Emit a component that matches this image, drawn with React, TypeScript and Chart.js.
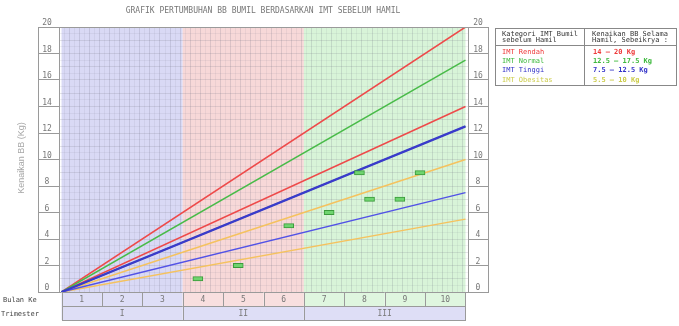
import React, { useEffect, useRef } from "react";
import { Chart, registerables } from "chart.js";

Chart.register(...registerables);

// ---- data ----
const chartTitle = "GRAFIK PERTUMBUHAN BB BUMIL BERDASARKAN IMT SEBELUM HAMIL";
const yAxisTitle = "Kenaikan BB (Kg)";
const categories = ["IMT Rendah", "IMT Normal", "IMT Tinggi", "IMT Obesitas"];
const gainRanges = ["14 \u2013 20 Kg", "12.5 \u2013 17.5 Kg", "7.5 \u2013 12.5 Kg", "5.5 \u2013 10 Kg"];
const upperGain = [20, 17.5, 12.5, 10];
const lowerGain = [14, 12.5, 7.5, 5.5];
const weekRange = [0, 40];
const visitWeeks = [13.5, 17.5, 22.5, 26.5, 29.5, 30.5, 33.5, 35.5];
const visitWeights = [1, 2, 5, 6, 9, 7, 7, 9];
const monthLabels = ["1", "2", "3", "4", "5", "6", "7", "8", "9", "10"];
const trimesterLabels = ["I", "II", "III"];
const trimesterBounds = [0, 12, 24, 40];
const legendHeader = [
  ["Kategori IMT Bumil", "sebelum Hamil"],
  ["Kenaikan BB Selama", "Hamil, Sebeikrya :"],
];

// ---- styles ----
const catColors = ["#ee4a4a", "#48bb48", "#3a3acc", "#f5c25e"];
const legendColors = ["#ee3a3a", "#3cb83c", "#3434c8", "#cccc4a"];
const bandColors = ["#d9d9f5", "#f7d8d8", "#d8f4d8"];
const cellColors = ["#dedef6", "#f8dfdf", "#dff6df"];
const MONO = '"DejaVu Sans Mono", monospace';

const decorPlugin = {
  id: "decor",
  beforeDraw(chart: any) {
    const { ctx, chartArea } = chart;
    const x = chart.scales.x;
    ctx.save();
    for (let i = 0; i < 3; i++) {
      const x0 = x.getPixelForValue(trimesterBounds[i]);
      const x1 = x.getPixelForValue(trimesterBounds[i + 1]);
      ctx.fillStyle = bandColors[i];
      ctx.fillRect(x0, chartArea.top, x1 - x0, chartArea.bottom - chartArea.top);
    }
    ctx.restore();
  },
  afterDraw(chart: any) {
    const { ctx, chartArea } = chart;
    const x = chart.scales.x;
    const y = chart.scales.y;
    const y2 = chart.scales.y2;
    ctx.save();
    ctx.strokeStyle = "#9a9a9a";
    ctx.lineWidth = 1;
    // axis boxes
    ctx.strokeRect(Math.round(y.left) + 0.5, chartArea.top + 0.5, y.right - y.left, chartArea.bottom - chartArea.top);
    ctx.strokeRect(Math.round(y2.left) + 0.5, chartArea.top + 0.5, y2.right - y2.left, chartArea.bottom - chartArea.top);
    ctx.strokeRect(chartArea.left + 0.5, chartArea.top + 0.5, chartArea.right - chartArea.left, chartArea.bottom - chartArea.top);

    // y title
    ctx.save();
    ctx.translate(22, 158);
    ctx.rotate(-Math.PI / 2);
    ctx.fillStyle = "#a8a8a8";
    ctx.font = '9px "Liberation Sans", sans-serif';
    ctx.textAlign = "center";
    ctx.textBaseline = "middle";
    ctx.fillText(yAxisTitle, 0, 0);
    ctx.restore();

    // bottom table
    const r0 = chartArea.bottom;
    const r1 = r0 + 14;
    const r2 = r1 + 14;
    ctx.font = "8px " + MONO;
    ctx.textAlign = "center";
    ctx.textBaseline = "middle";
    for (let i = 0; i < monthLabels.length; i++) {
      const a = x.getPixelForValue(i * 4);
      const b = x.getPixelForValue((i + 1) * 4);
      const t = i < 3 ? 0 : i < 6 ? 1 : 2;
      ctx.fillStyle = cellColors[t];
      ctx.fillRect(a, r0, b - a, r1 - r0);
      ctx.strokeRect(Math.round(a) + 0.5, r0 + 0.5, Math.round(b) - Math.round(a), r1 - r0);
      ctx.fillStyle = "#777";
      ctx.fillText(monthLabels[i], (a + b) / 2, (r0 + r1) / 2 + 1);
    }
    for (let i = 0; i < trimesterLabels.length; i++) {
      const a = x.getPixelForValue(trimesterBounds[i]);
      const b = x.getPixelForValue(trimesterBounds[i + 1]);
      ctx.fillStyle = cellColors[0];
      ctx.fillRect(a, r1, b - a, r2 - r1);
      ctx.strokeRect(Math.round(a) + 0.5, r1 + 0.5, Math.round(b) - Math.round(a), r2 - r1);
      ctx.fillStyle = "#777";
      ctx.fillText(trimesterLabels[i], (a + b) / 2, (r1 + r2) / 2 + 1);
    }
    ctx.font = "7px " + MONO;
    ctx.fillStyle = "#444";
    ctx.textAlign = "left";
    ctx.fillText("Bulan Ke", 3, (r0 + r1) / 2 + 1);
    ctx.fillText("Trimester", 1, (r1 + r2) / 2 + 1);

    // legend table
    const L = 495, R = 676, T = 28, B = 85, D = 584, H = 45;
    ctx.fillStyle = "#fff";
    ctx.fillRect(L, T, R - L, B - T);
    ctx.strokeStyle = "#888";
    ctx.strokeRect(L + 0.5, T + 0.5, R - L, B - T);
    ctx.beginPath();
    ctx.moveTo(D + 0.5, T);
    ctx.lineTo(D + 0.5, B);
    ctx.moveTo(L, H + 0.5);
    ctx.lineTo(R, H + 0.5);
    ctx.stroke();
    ctx.textAlign = "left";
    ctx.font = "7px " + MONO;
    ctx.fillStyle = "#333";
    ctx.fillText(legendHeader[0][0], 502, 34);
    ctx.fillText(legendHeader[0][1], 502, 40.5);
    ctx.fillText(legendHeader[1][0], 592, 34);
    ctx.fillText(legendHeader[1][1], 592, 40.5);
    const rowY = [52, 61, 70.5, 80];
    for (let i = 0; i < categories.length; i++) {
      ctx.fillStyle = legendColors[i];
      ctx.font = "7px " + MONO;
      ctx.fillText(categories[i], 502, rowY[i]);
      ctx.font = "bold 7px " + MONO;
      ctx.fillText(gainRanges[i], 593, rowY[i]);
    }
    ctx.restore();
  },
};

const lineOrder = [3, 2, 1, 3];
const lineWidths = [1.5, 1.5, 2.2, 1.5];

export default function App() {
  const ref = useRef<HTMLCanvasElement | null>(null);
  useEffect(() => {
    if (!ref.current) return;
    const datasets: any[] = [];
    categories.forEach((c, i) => {
      [upperGain[i], lowerGain[i]].forEach((g, k) => {
        datasets.push({
          type: "line",
          label: c + (k === 0 ? " max" : " min"),
          data: [
            { x: weekRange[0], y: 0 },
            { x: weekRange[1], y: g },
          ],
          borderColor: i === 2 && k === 1 ? "#5252e6" : catColors[i],
          borderWidth: i === 2 && k === 1 ? 1.5 : lineWidths[i],
          pointRadius: 0,
          order: lineOrder[i],
        });
      });
    });
    datasets.push({
      type: "bar",
      label: "BB",
      data: visitWeeks.map((w, i) => ({ x: w, y: [visitWeights[i] - 0.16, visitWeights[i] + 0.16] })),
      backgroundColor: "#6fd46f",
      borderColor: "#3a9a3a",
      borderWidth: 1,
      borderSkipped: false,
      barThickness: 10,
      order: 0,
    });

    const chart = new Chart(ref.current, {
      type: "line",
      data: { datasets },
      plugins: [decorPlugin],
      options: {
        animation: false,
        responsive: false,
        events: [],
        layout: { padding: { left: 38, right: 191, top: 0, bottom: 34 } },
        plugins: {
          legend: { display: false },
          tooltip: { enabled: false },
          title: {
            display: true,
            text: chartTitle,
            color: "#777",
            font: { family: MONO, size: 8, weight: "normal", lineHeight: 1.2 },
            padding: { top: 6, bottom: 11.4 },
          },
        },
        scales: {
          x: {
            type: "linear",
            min: weekRange[0],
            max: weekRange[1],
            afterFit: (s: any) => { s.height = 0; },
            ticks: { display: false, stepSize: 0.5, autoSkip: false, maxTicksLimit: 200 },
            grid: {
              drawTicks: false,
              color: (c: any) =>
                c.tick && c.tick.value % 1 === 0 ? "rgba(110,110,130,0.2)" : "rgba(110,110,130,0.09)",
            },
            border: { display: false },
          },
          y: {
            type: "linear",
            position: "left",
            min: 0,
            max: 20,
            afterFit: (s: any) => { s.width = 21; },
            ticks: {
              stepSize: 0.5,
              autoSkip: false,
              maxTicksLimit: 200,
              callback: (v: any) => (v % 2 === 0 ? String(v) : ""),
              color: "#777",
              font: { family: MONO, size: 8 },
              crossAlign: "center",
              padding: -13.8,
              labelOffset: -4,
            },
            grid: {
              tickLength: 21,
              color: (c: any) =>
                c.tick && c.tick.value % 1 === 0 ? "rgba(110,110,130,0.18)" : "rgba(110,110,130,0.09)",
              tickColor: (c: any) => (c.tick && c.tick.value % 2 === 0 ? "#9a9a9a" : "rgba(0,0,0,0)"),
            },
            border: { display: false },
          },
          y2: {
            type: "linear",
            position: "right",
            min: 0,
            max: 20,
            afterFit: (s: any) => { s.width = 20; },
            ticks: {
              stepSize: 0.5,
              autoSkip: false,
              maxTicksLimit: 200,
              callback: (v: any) => (v % 2 === 0 ? String(v) : ""),
              color: "#777",
              font: { family: MONO, size: 8 },
              crossAlign: "center",
              padding: -14.8,
              labelOffset: -4,
            },
            grid: {
              tickLength: 20,
              drawOnChartArea: false,
              tickColor: (c: any) => (c.tick && c.tick.value % 2 === 0 ? "#9a9a9a" : "rgba(0,0,0,0)"),
            },
            border: { display: false },
          },
        },
      } as any,
    });
    return () => chart.destroy();
  }, []);

  return (
    <div style={{ position: "absolute", left: 0, top: 0, width: 679, height: 326, background: "#fff" }}>
      <canvas ref={ref} width={679} height={326} style={{ display: "block" }} />
    </div>
  );
}
